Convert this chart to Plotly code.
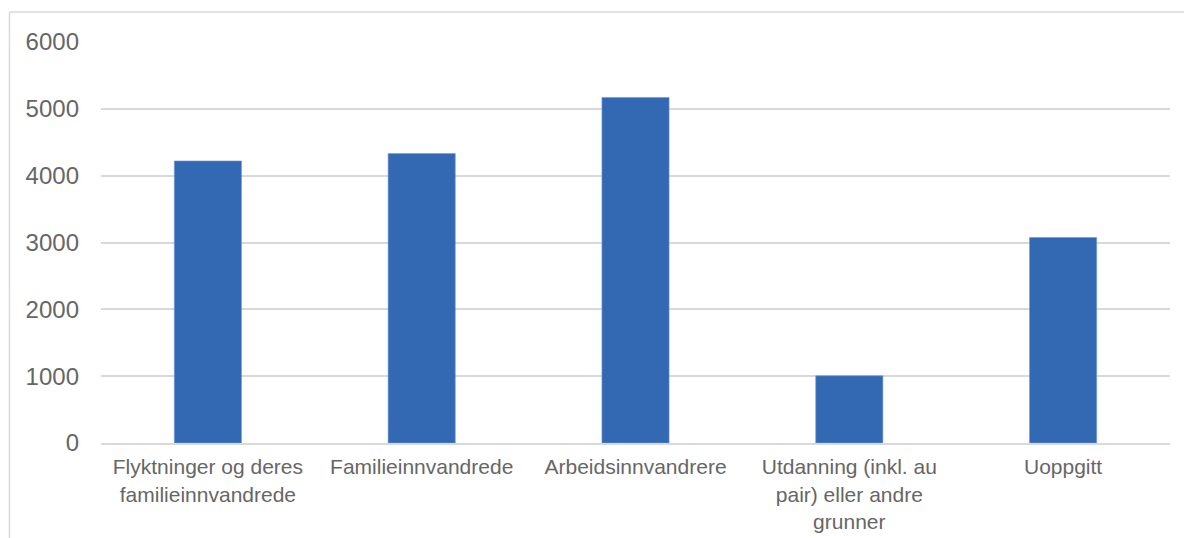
import plotly.graph_objects as go

kategorier = [
    "Flyktninger og deres<br>familieinnvandrede",
    "Familieinnvandrede",
    "Arbeidsinnvandrere",
    "Utdanning (inkl. au<br>pair) eller andre<br>grunner",
    "Uoppgitt",
]
antall = [4220, 4330, 5170, 1005, 3075]
y_ticks = [0, 1000, 2000, 3000, 4000, 5000, 6000]

# siden har 8px marg rundt figuren
OFF = 8
W, H = 1192 - OFF, 538 - OFF
L, R, T, B = 101 - OFF, 22, 42 - OFF, 95
pw, ph = W - L - R, H - T - B

fig = go.Figure(
    go.Bar(
        x=kategorier,
        y=antall,
        marker=dict(color="#3369B3", line=dict(color="#6F97D0", width=0.6)),
    )
)

fig.update_layout(
    width=W,
    height=H,
    margin=dict(l=L, r=R, t=T, b=B),
    plot_bgcolor="white",
    paper_bgcolor="white",
    bargap=0.686,
    showlegend=False,
    font=dict(family="Liberation Sans, Arial", size=21, color="#666666"),
)
fig.update_xaxes(
    automargin=False,
    showline=True,
    linecolor="#D9D9D9",
    linewidth=2,
    ticks="",
    ticklabelstandoff=4,
    tickfont=dict(size=21),
)
fig.update_yaxes(
    automargin=False,
    range=[0, 6000],
    tickvals=y_ticks,
    showgrid=True,
    gridcolor="#D9D9D9",
    gridwidth=2,
    zeroline=False,
    ticks="",
    ticklabelstandoff=21,
    tickfont=dict(size=24),
)

# ytre ramme (topp og venstre kant)
px_x = lambda p: (p - OFF - L) / pw
px_y = lambda p: (H - B - (p - OFF)) / ph
fig.add_shape(type="line", xref="paper", yref="paper",
              x0=px_x(9.5), x1=px_x(1200), y0=px_y(12), y1=px_y(12),
              line=dict(color="#D9D9D9", width=1.5))
fig.add_shape(type="line", xref="paper", yref="paper",
              x0=px_x(9.5), x1=px_x(9.5), y0=px_y(12), y1=px_y(545),
              line=dict(color="#D9D9D9", width=1.5))

fig.write_html("out.html")
